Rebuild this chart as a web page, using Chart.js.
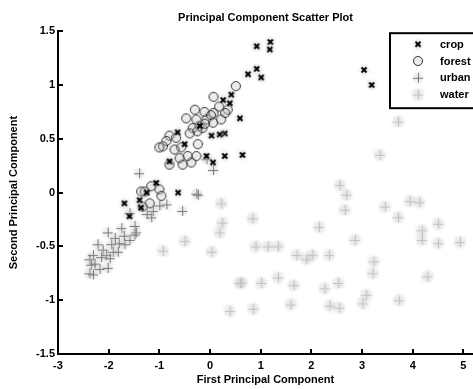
<!DOCTYPE html>
<html><head><meta charset="utf-8">
<script src="https://cdn.jsdelivr.net/npm/chart.js@4/dist/chart.umd.min.js"></script>
<style>html,body{margin:0;padding:0;background:#fff;}#wrap{width:473px;height:389px;}</style>
</head><body><div id="wrap"><canvas id="c" width="473" height="389"></canvas></div>
<script>
const seriesNames = ['crop', 'forest', 'urban', 'water'];
const cropX = [1.19, 1.18, 0.92, 0.92, 0.75, 1.01, 0.42, 0.26, 0.39, 0.59, -0.64, 0.03, 0.29, 0.19, -0.07, 0.29, 0.64, 0.06, -0.80, -1.06, -0.63, -1.69, -1.39, -1.36, -1.59, 3.04, 3.19, -0.20, -0.50, -1.25];
const cropY = [1.40, 1.33, 1.36, 1.15, 1.10, 1.07, 0.91, 0.86, 0.83, 0.69, 0.56, 0.53, 0.55, 0.54, 0.34, 0.34, 0.35, 0.28, 0.29, 0.09, 0.00, -0.10, -0.07, -0.14, -0.22, 1.14, 1.00, 0.62, 0.45, 0.00];
const forestX = [0.51, 0.07, 0.18, 0.35, -0.30, -0.11, 0.07, -0.47, -0.27, -0.07, 0.22, 0.06, -0.21, -0.34, -0.15, -0.25, -0.10, -0.40, -0.80, -0.67, -0.86, -0.93, -1.00, -0.57, -0.24, -0.44, -0.27, -0.60, -0.37, -0.54, -0.80, -1.16, -1.00, -1.29, -0.96, -1.19, -1.33, -1.36, -0.70, 0.02, 0.30];
const forestY = [0.99, 0.89, 0.80, 0.77, 0.77, 0.75, 0.74, 0.69, 0.68, 0.68, 0.68, 0.65, 0.62, 0.60, 0.60, 0.57, 0.64, 0.55, 0.53, 0.51, 0.48, 0.43, 0.42, 0.42, 0.45, 0.34, 0.34, 0.32, 0.28, 0.26, 0.26, 0.06, 0.03, 0.01, -0.03, -0.10, -0.13, 0.01, 0.40, 0.72, 0.74];
const urbanX = [-1.40, -0.07, 0.06, -0.27, -0.86, -1.00, -0.24, -0.55, -1.13, -1.16, -1.59, -1.49, -1.46, -1.75, -2.02, -1.59, -1.69, -1.80, -2.22, -1.95, -2.12, -1.92, -2.05, -1.82, -2.31, -2.38, -1.98, -2.35, -2.18, -2.38, -2.31, -2.02, -1.49, -1.25, -2.28, -1.88, -2.15, -1.70];
const urbanY = [0.18, 0.31, 0.21, -0.01, -0.11, -0.12, -0.02, -0.17, -0.17, -0.23, -0.19, -0.31, -0.37, -0.33, -0.37, -0.44, -0.48, -0.47, -0.48, -0.48, -0.53, -0.55, -0.58, -0.55, -0.58, -0.62, -0.61, -0.67, -0.71, -0.75, -0.76, -0.70, -0.39, -0.20, -0.66, -0.42, -0.60, -0.40];
const waterX = [0.22, 0.24, 0.19, -0.50, -0.93, 0.03, 0.59, 0.39, 3.71, 3.35, 2.56, 2.69, 2.66, 0.84, 2.15, 3.45, 3.94, 4.13, 3.71, 4.50, 4.18, 4.18, 4.50, 4.93, 2.86, 0.90, 1.14, 1.34, 1.71, 1.90, 2.02, 2.35, 3.23, 3.21, 0.62, 1.01, 1.34, 1.65, 2.26, 2.53, 4.29, 3.08, 3.01, 3.73, 0.85, 1.59, 2.36, 2.55];
const waterY = [-0.10, -0.28, -0.37, -0.45, -0.54, -0.55, -0.84, -1.10, 0.66, 0.35, 0.07, -0.02, -0.16, -0.24, -0.32, -0.13, -0.08, -0.09, -0.23, -0.29, -0.35, -0.44, -0.47, -0.46, -0.44, -0.50, -0.50, -0.50, -0.58, -0.62, -0.58, -0.58, -0.64, -0.75, -0.84, -0.84, -0.79, -0.86, -0.89, -0.84, -0.78, -0.95, -1.03, -1.00, -1.08, -1.04, -1.05, -1.07];
const xTicks = [-3, -2, -1, 0, 1, 2, 3, 4, 5];
const yTicks = [-1.5, -1, -0.5, 0, 0.5, 1, 1.5];
const titleText = 'Principal Component Scatter Plot';
const xTitle = 'First Principal Component';
const yTitle = 'Second Principal Component';

const FONT = "'Liberation Sans', Arial, sans-serif";

function makeMarker(kind) {
  const s = 20, c = document.createElement('canvas');
  c.width = s; c.height = s;
  const g = c.getContext('2d'), m = s / 2;
  const hr = kind === 'water' ? 8 : 7;
  const grad = g.createRadialGradient(m, m, 0, m, m, hr);
  const a = kind === 'water' ? 0.38 : 0.32;
  grad.addColorStop(0, 'rgba(180,180,180,' + a + ')');
  grad.addColorStop(0.6, 'rgba(190,190,190,' + (a * 0.7) + ')');
  grad.addColorStop(1, 'rgba(200,200,200,0)');
  g.fillStyle = grad; g.beginPath(); g.arc(m, m, hr, 0, Math.PI * 2); g.fill();
  g.lineCap = 'butt';
  if (kind === 'crop') {
    g.strokeStyle = '#000'; g.lineWidth = 2;
    g.beginPath(); g.moveTo(m - 2.5, m - 2.5); g.lineTo(m + 2.5, m + 2.5);
    g.moveTo(m + 2.5, m - 2.5); g.lineTo(m - 2.5, m + 2.5); g.stroke();
  } else if (kind === 'forest') {
    g.strokeStyle = '#333'; g.lineWidth = 1;
    g.beginPath(); g.arc(m, m, 4.5, 0, Math.PI * 2); g.stroke();
  } else if (kind === 'urban') {
    g.strokeStyle = '#7a7a7a'; g.lineWidth = 1;
    g.beginPath(); g.moveTo(m - 5, m + 0.5); g.lineTo(m + 5, m + 0.5);
    g.moveTo(m + 0.5, m - 5); g.lineTo(m + 0.5, m + 5); g.stroke();
  } else {
    g.strokeStyle = '#c4c4c4'; g.lineWidth = 1.2;
    g.beginPath(); g.moveTo(m - 5, m + 0.5); g.lineTo(m + 5, m + 0.5);
    g.moveTo(m + 0.5, m - 5); g.lineTo(m + 0.5, m + 5); g.stroke();
  }
  return c;
}
const markers = {crop: makeMarker('crop'), forest: makeMarker('forest'), urban: makeMarker('urban'), water: makeMarker('water')};

function pts(xs, ys) { return xs.map((x, i) => ({x: x, y: ys[i]})); }

const inwardTicks = {
  id: 'inwardTicks',
  afterDatasetsDraw(chart) {
    const ctx = chart.ctx, xs = chart.scales.x, ys = chart.scales.y, a = chart.chartArea;
    ctx.save(); ctx.strokeStyle = '#000'; ctx.lineWidth = 2;
    ctx.beginPath();
    xTicks.forEach(v => { const p = Math.round(xs.getPixelForValue(v)); ctx.moveTo(p, a.bottom); ctx.lineTo(p, a.bottom - 5); });
    yTicks.forEach(v => { const p = Math.round(ys.getPixelForValue(v)); ctx.moveTo(a.left, p); ctx.lineTo(a.left + 5, p); });
    ctx.stroke(); ctx.restore();
  }
};

const boxLegend = {
  id: 'boxLegend',
  afterDraw(chart) {
    const ctx = chart.ctx, a = chart.chartArea;
    const L = a.right - 83, T = a.top + 2, W = 100, H = 75;
    ctx.save();
    ctx.fillStyle = '#fff'; ctx.fillRect(L, T, W, H);
    ctx.strokeStyle = '#000'; ctx.lineWidth = 2; ctx.strokeRect(L, T, W, H);
    ctx.font = 'bold 11px ' + FONT; ctx.fillStyle = '#000'; ctx.textBaseline = 'middle'; ctx.textAlign = 'left';
    chart.data.datasets.forEach((ds, i) => {
      const y = T + 11 + i * 16.8;
      const img = ds.pointStyle;
      ctx.drawImage(img, L + 28 - img.width / 2, y - img.height / 2);
      ctx.fillText(ds.label, L + 50, y + 0.5);
    });
    ctx.restore();
  }
};

const names = seriesNames;
new Chart(document.getElementById('c'), {
  type: 'scatter',
  data: {
    datasets: [
      {label: names[0], data: pts(cropX, cropY), pointStyle: markers.crop},
      {label: names[1], data: pts(forestX, forestY), pointStyle: markers.forest},
      {label: names[2], data: pts(urbanX, urbanY), pointStyle: markers.urban},
      {label: names[3], data: pts(waterX, waterY), pointStyle: markers.water}
    ]
  },
  options: {
    responsive: false, animation: false, devicePixelRatio: 1,
    layout: {autoPadding: false, padding: {left: 0, right: 0, top: 0, bottom: 0}},
    plugins: {
      legend: {display: false}, tooltip: {enabled: false},
      title: {display: true, fullSize: false, text: titleText, color: '#000', font: {family: FONT, weight: 'bold', size: 11}, padding: {top: 11, bottom: 7}}
    },
    scales: {
      x: {
        type: 'linear', min: -3, max: 5.19,
        afterBuildTicks: s => { s.ticks = xTicks.map(v => ({value: v})); },
        afterFit: s => { s.height = 35; s.paddingLeft = 0; s.paddingRight = 0; },
        grid: {display: true, drawOnChartArea: false, drawTicks: false, color: 'rgba(0,0,0,0)'},
        border: {display: true, color: '#000', width: 2},
        ticks: {color: '#000', font: {family: FONT, weight: 'bold', size: 11}, padding: 5, autoSkip: false, maxRotation: 0, callback: v => String(v)},
        title: {display: true, text: xTitle, color: '#000', font: {family: FONT, weight: 'bold', size: 11}, padding: {top: 0, bottom: 2}}
      },
      y: {
        type: 'linear', min: -1.5, max: 1.5,
        afterBuildTicks: s => { s.ticks = yTicks.map(v => ({value: v})); },
        afterFit: s => { s.width = 58; },
        grid: {display: true, drawOnChartArea: false, drawTicks: false, color: 'rgba(0,0,0,0)'},
        border: {display: true, color: '#000', width: 2},
        ticks: {color: '#000', font: {family: FONT, weight: 'bold', size: 11}, padding: 3, autoSkip: false, callback: v => String(v)},
        title: {display: true, text: yTitle, color: '#000', font: {family: FONT, weight: 'bold', size: 11}, padding: {top: 7, bottom: 0}}
      }
    }
  },
  plugins: [inwardTicks, boxLegend]
});
</script></body></html>
